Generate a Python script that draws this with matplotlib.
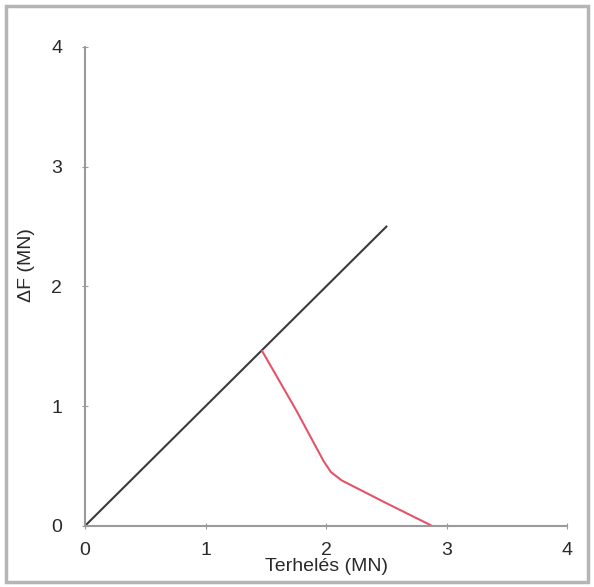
import matplotlib.pyplot as plt
from matplotlib.patches import Rectangle

plt.rcParams["font.family"] = ["Liberation Sans", "DejaVu Sans"]

# Data
load_line_x = [0.0, 2.5]
load_line_y = [0.0, 2.5]

red_x = [1.47, 1.75, 1.98, 2.04, 2.13, 2.50, 2.88]
red_y = [1.46, 0.97, 0.54, 0.45, 0.38, 0.19, 0.0]

ticks = [0, 1, 2, 3, 4]

fig = plt.figure(figsize=(5.94, 5.87), dpi=100)
ax = fig.add_axes([0.143, 0.104, 0.812, 0.816])

# outer grey frame of the figure
fig.patches.append(Rectangle((0.01, 0.008), 0.98, 0.982, transform=fig.transFigure,
                             fill=False, edgecolor="#b5b5b5", linewidth=2.5))

ax.plot(load_line_x, load_line_y, color="#3a3a3a", linewidth=1.5)
ax.plot(red_x, red_y, color="#e2546a", linewidth=1.5)

ax.set_xlim(0, 4)
ax.set_ylim(0, 4)
ax.set_xticks(ticks)
ax.set_yticks(ticks)

for s in ["top", "right"]:
    ax.spines[s].set_visible(False)
for s in ["left", "bottom"]:
    ax.spines[s].set_color("#9a9a9a")
    ax.spines[s].set_linewidth(1.5)

ax.tick_params(direction="inout", length=5, color="#9a9a9a", labelsize=14,
               labelcolor="#2a2a2a")
ax.tick_params(axis="x", pad=9)
ax.tick_params(axis="y", pad=14)
ax.set_xlabel("Terhelés (MN)", fontsize=14, color="#2a2a2a", labelpad=-1)
ax.set_ylabel("ΔF (MN)", fontsize=14, color="#2a2a2a")
ax.yaxis.set_label_coords(-0.103, 0.545)

fig.savefig("out.png", dpi=100)
